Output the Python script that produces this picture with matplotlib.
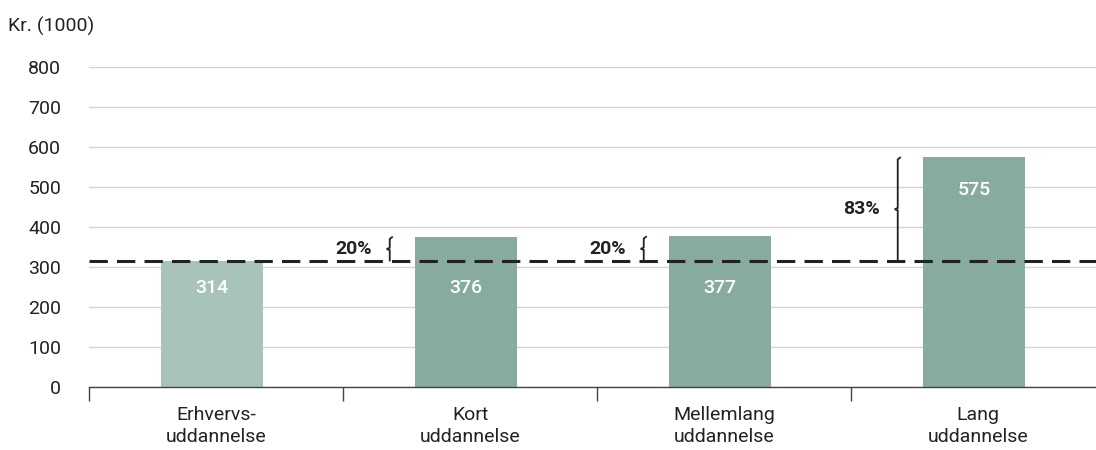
import numpy as np
import matplotlib.pyplot as plt
from matplotlib.path import Path
from matplotlib.patches import PathPatch

categories = ["Erhvervs-\nuddannelse", "Kort\nuddannelse", "Mellemlang\nuddannelse", "Lang\nuddannelse"]
values = [314, 376, 377, 575]
pct_labels = [None, "20%", "20%", "83%"]
bar_colors = ["#a7c3ba", "#88ab9f", "#88ab9f", "#88ab9f"]
yticks = [0, 100, 200, 300, 400, 500, 600, 700, 800]

plt.rcParams["font.family"] = ["Roboto", "DejaVu Sans"]
TXT = "#222222"

fig = plt.figure(figsize=(10.96, 4.5), dpi=100)
# category width 254 px, axes runs a bit past the right edge of the figure
ax = fig.add_axes([89 / 1096, 1 - 387 / 450, 1016 / 1096, 320 / 450])

x = np.arange(len(categories))
bx = x - 0.016
ax.bar(bx, values, width=0.4, color=bar_colors, zorder=2)

base = values[0]
for xi, v in zip(bx, values):
    ly = base - 66 if v < base + 100 else v - 82
    ax.text(xi, ly, str(v), ha="center", va="center", color="white",
            fontsize=14, fontweight="medium", zorder=4)

ax.axhline(base, color=TXT, lw=2.2, dashes=(6, 3), zorder=3)


def brace(ax, xc, y0, y1, w=0.012):
    # curly brace: vertical stroke, hook at the top, notch pointing left in the middle
    ym = (y0 + y1) / 2
    d = min(6, (y1 - y0) * 0.15)
    verts = [(xc + w, y1), (xc, y1 - d), (xc, ym + d * 0.5), (xc - w, ym),
             (xc, ym - d * 0.5), (xc, y0)]
    codes = [Path.MOVETO] + [Path.LINETO] * 5
    ax.add_patch(PathPatch(Path(verts, codes), fill=False, lw=1.3, color=TXT, zorder=3))


for xi, v, lab in zip(bx, values, pct_labels):
    if lab is None:
        continue
    cx = xi - 0.3
    brace(ax, cx, base, v)
    ax.text(cx - 0.07, (base + v) / 2, lab, ha="right", va="center", fontsize=14,
            fontweight="bold", color=TXT)

ax.set_xlim(-0.5, len(categories) - 0.5)
ax.set_ylim(0, 800)
ax.set_yticks(yticks)
ax.yaxis.grid(True, color="#d3d3d3", lw=1)
ax.set_axisbelow(True)
ax.tick_params(axis="y", length=0, pad=20, labelsize=14, labelcolor=TXT)

ax.set_xticks(x)
ax.set_xticklabels(categories, fontsize=14, color=TXT, linespacing=1.25)
ax.tick_params(axis="x", which="major", length=0, pad=14)
ax.set_xticks(np.arange(len(categories)) - 0.5, minor=True)
ax.tick_params(axis="x", which="minor", length=10, width=1, color="#444444", direction="out")

for s in ["top", "right", "left"]:
    ax.spines[s].set_visible(False)
ax.spines["bottom"].set_color("#444444")
ax.spines["bottom"].set_linewidth(1)

fig.text(8 / 1096, 1 - 26 / 450, "Kr. (1000)", ha="left", va="center", fontsize=14, color=TXT)

fig.savefig("out.png", dpi=100)
